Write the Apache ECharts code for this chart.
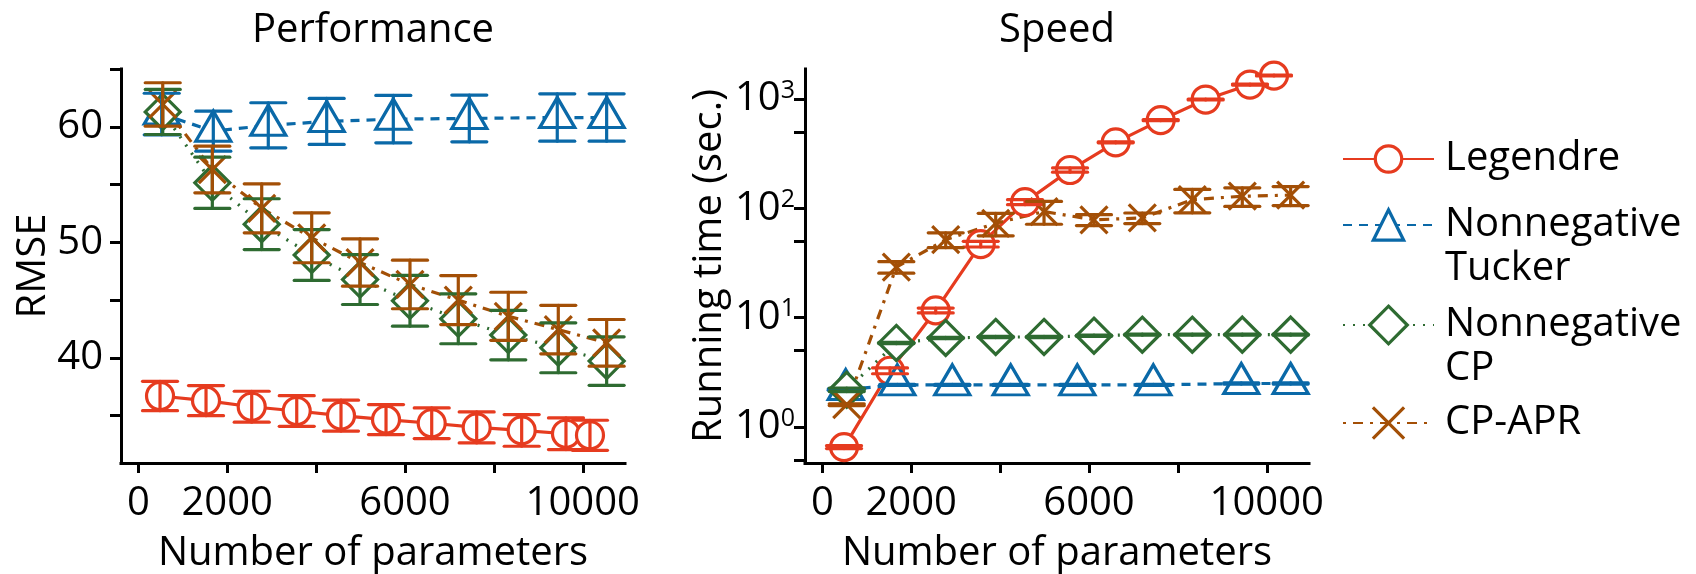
<!DOCTYPE html>
<html>
<head>
<meta charset="utf-8">
<script src="https://cdn.jsdelivr.net/npm/echarts@6/dist/echarts.min.js"></script>
<style>
  html, body { margin: 0; padding: 0; background: #fff; }
  #main { width: 1696px; height: 574px; }
</style>
</head>
<body>
<div id="main"></div>
<script>
// ---- data ----
var names = ['Legendre', 'Nonnegative Tucker', 'Nonnegative CP', 'CP-APR'];

// number of parameters
var xLegendre = [488, 1523, 2551, 3564, 4560, 5573, 6601, 7613, 8625, 9622, 10162];
var xTucker   = [526, 1687, 2924, 4238, 5737, 7447, 9426, 10537];
var xCP       = [549, 1665, 2776, 3901, 4988, 6112, 7199, 8324, 9449, 10537];
var xCPAPR    = [549, 1665, 2776, 3901, 4988, 6112, 7199, 8324, 9449, 10537];

// RMSE (mean, sd)
var rmseLegendre   = [36.7, 36.3, 35.77, 35.4, 35.0, 34.66, 34.34, 33.98, 33.72, 33.43, 33.3];
var rmseLegendreSd = [1.27, 1.30, 1.34, 1.33, 1.34, 1.30, 1.33, 1.34, 1.37, 1.37, 1.30];
var rmseTucker     = [61.1, 59.62, 60.13, 60.46, 60.66, 60.72, 60.8, 60.8];
var rmseTuckerSd   = [1.8, 1.73, 1.95, 1.99, 2.05, 2.02, 2.05, 2.05];
var rmseCP         = [61.28, 55.15, 51.57, 48.9, 46.78, 44.94, 43.38, 41.97, 40.87, 39.72];
var rmseCPSd       = [1.95, 2.22, 2.2, 2.2, 2.16, 2.2, 2.16, 2.14, 2.16, 2.1];
var rmseCPAPR      = [61.93, 56.3, 52.94, 50.39, 48.25, 46.35, 45.0, 43.6, 42.45, 41.3];
var rmseCPAPRSd    = [1.88, 2.02, 2.12, 2.16, 2.05, 2.1, 2.12, 2.08, 2.1, 2.02];

// running time in seconds (mean, sd)
var timeLegendre   = [0.656, 3.27, 11.65, 47.1, 114, 224, 401, 640, 988, 1355, 1637];
var timeLegendreSd = [0.02, 0.2, 0.6, 2.8, 6, 10, 4, 8, 10, 15, 15];
var timeTucker     = [2.2, 2.43, 2.43, 2.43, 2.43, 2.43, 2.5, 2.5];
var timeTuckerSd   = [0.03, 0.03, 0.03, 0.03, 0.03, 0.03, 0.03, 0.03];
var timeCP         = [2.19, 5.87, 6.52, 6.66, 6.66, 6.84, 6.99, 6.99, 7.0, 7.0];
var timeCPSd       = [0.08, 0.08, 0.08, 0.08, 0.08, 0.08, 0.08, 0.08, 0.08, 0.08];
var timeCPAPR      = [1.6, 29, 51.7, 73, 93.5, 78.5, 81.6, 120, 129, 132];
var timeCPAPRSd    = [0.03, 3.5, 8, 17, 22, 9, 9, 29, 25, 26];

// axis ticks / labels
var xTicks = [0, 2000, 4000, 6000, 8000, 10000];
var xLabels = [0, 2000, 6000, 10000];
var rmseTicks = [35, 40, 45, 50, 55, 60, 65];
var rmseLabels = [40, 50, 60];
var timeTicks = [0.5, 1, 5, 10, 50, 100, 500, 1000];
var timeLabels = [1, 10, 100, 1000];

// ---- styles ----
var FONT = 'Open Sans';
var COLORS = ['#E63B1F', '#0A69A8', '#2E6B31', '#A34F06'];
var SYMBOLS = ['circle', 'triangle', 'diamond', 'path://M0,0L27,27M27,0L0,27'];
var SIZES = [27, [35, 30], [35, 35], 27];
var OFFSETS = [[0, 0], [0, -5], [0, 0], [0, 0]];
var DASHES = ['solid', [9, 7], [2, 8], [3, 7, 10, 7]];
var LW = 3.2;
var CAP = 17.5;

function lineSeries(k, grid, xs, ys) {
  return {
    type: 'line', name: names[k], xAxisIndex: grid, yAxisIndex: grid, z: 2,
    data: xs.map(function (x, i) { return [x, ys[i]]; }),
    symbol: SYMBOLS[k], symbolSize: SIZES[k], symbolOffset: OFFSETS[k],
    itemStyle: { color: '#fff', borderColor: COLORS[k], borderWidth: LW },
    lineStyle: { color: COLORS[k], width: LW, type: DASHES[k] },
    emphasis: { disabled: true }, silent: true, animation: false
  };
}

// error bars drawn above the markers
function errSeries(k, grid, xs, ys, sd) {
  var color = COLORS[k];
  return {
    type: 'custom', name: names[k], xAxisIndex: grid, yAxisIndex: grid, z: 3,
    data: xs.map(function (x, i) { return [x, ys[i], ys[i] - sd[i], ys[i] + sd[i]]; }),
    renderItem: function (params, api) {
      var x = api.value(0);
      var hi = api.coord([x, api.value(3)]);
      var lo = api.coord([x, api.value(2)]);
      var st = { stroke: color, lineWidth: LW, lineCap: 'round' };
      return {
        type: 'group', children: [
          { type: 'line', shape: { x1: hi[0], y1: hi[1], x2: lo[0], y2: lo[1] }, style: st },
          { type: 'line', shape: { x1: hi[0] - CAP, y1: hi[1], x2: hi[0] + CAP, y2: hi[1] }, style: st },
          { type: 'line', shape: { x1: lo[0] - CAP, y1: lo[1], x2: lo[0] + CAP, y2: lo[1] }, style: st }
        ]
      };
    },
    silent: true, animation: false
  };
}

var axisText = { fontSize: 40, color: '#000', fontFamily: FONT };
var axisLine = { onZero: false, lineStyle: { color: '#000', width: 3, cap: 'square' } };

function xAxisCfg(grid) {
  return {
    type: 'value', gridIndex: grid, min: -390, max: 10950,
    name: 'Number of parameters', nameLocation: 'middle', nameGap: 71, nameTextStyle: axisText,
    axisLine: axisLine,
    axisTick: { customValues: xTicks, length: 10, lineStyle: { color: '#000', width: 3 } },
    axisLabel: Object.assign({ customValues: xLabels, margin: 21, formatter: function (v) { return String(v); } }, axisText),
    splitLine: { show: false }
  };
}

var series = [];
var xs = [xLegendre, xTucker, xCP, xCPAPR];
var rm = [rmseLegendre, rmseTucker, rmseCP, rmseCPAPR];
var rmSd = [rmseLegendreSd, rmseTuckerSd, rmseCPSd, rmseCPAPRSd];
var tm = [timeLegendre, timeTucker, timeCP, timeCPAPR];
var tmSd = [timeLegendreSd, timeTuckerSd, timeCPSd, timeCPAPRSd];
for (var k = 0; k < 4; k++) {
  series.push(lineSeries(k, 0, xs[k], rm[k]));
  series.push(errSeries(k, 0, xs[k], rm[k], rmSd[k]));
}
for (var k = 0; k < 4; k++) {
  series.push(lineSeries(k, 1, xs[k], tm[k]));
  series.push(errSeries(k, 1, xs[k], tm[k], tmSd[k]));
}

// legend: one block per method so the icon sits on the first text line
var legendTexts = ['Legendre', '\nNonnegative\nTucker', '\nNonnegative\nCP', 'CP-APR'];
var legendTops = [137, 159, 259, 401];
var legendIconH = [33, 38, 47, 39];
var legends = names.map(function (n, k) {
  return {
    data: [n], orient: 'vertical', left: 1342, top: legendTops[k], padding: 0,
    itemWidth: 91, itemHeight: legendIconH[k], selectedMode: false,
    formatter: function () { return legendTexts[k]; },
    itemStyle: { borderWidth: LW },
    textStyle: { fontSize: 40, lineHeight: 44, color: '#000', fontFamily: FONT, padding: [0, 0, 0, 6] }
  };
});

var chart = echarts.init(document.getElementById('main'), null, { renderer: 'canvas' });
chart.setOption({
  backgroundColor: '#fff',
  animation: false,
  title: [
    { text: 'Performance', left: 373, top: 11, textAlign: 'center', padding: 0,
      textStyle: { fontSize: 40, fontWeight: 'normal', color: '#000', fontFamily: FONT } },
    { text: 'Speed', left: 1057, top: 11, textAlign: 'center', padding: 0,
      textStyle: { fontSize: 40, fontWeight: 'normal', color: '#000', fontFamily: FONT } }
  ],
  legend: legends,
  grid: [
    { left: 121, top: 69, width: 504, height: 394, outerBoundsMode: 'none' },
    { left: 805, top: 69, width: 504, height: 394, outerBoundsMode: 'none' }
  ],
  xAxis: [xAxisCfg(0), xAxisCfg(1)],
  yAxis: [
    {
      type: 'value', gridIndex: 0, min: 30.9, max: 65,
      name: 'RMSE', nameLocation: 'middle', nameGap: 67, nameTextStyle: axisText,
      axisLine: axisLine,
      axisTick: { customValues: rmseTicks, length: 11, lineStyle: { color: '#000', width: 3 } },
      axisLabel: Object.assign({ customValues: rmseLabels, margin: 18 }, axisText),
      splitLine: { show: false }
    },
    {
      type: 'log', logBase: 10, gridIndex: 1, min: 0.469, max: 1879,
      name: 'Running time (sec.)', nameLocation: 'middle', nameGap: 75, nameTextStyle: axisText,
      axisLine: axisLine,
      axisTick: { customValues: timeTicks, length: 11, lineStyle: { color: '#000', width: 3 } },
      axisLabel: {
        customValues: timeLabels, margin: 10, color: '#000', fontFamily: FONT,
        formatter: function (v) { return '{b|10}{s|' + Math.round(Math.log10(v)) + '}'; },
        rich: {
          b: { fontSize: 40, lineHeight: 40, fontFamily: FONT, color: '#000' },
          s: { fontSize: 25, lineHeight: 25, fontFamily: FONT, color: '#000', padding: [0, 0, 17, 0] }
        }
      },
      splitLine: { show: false }
    }
  ],
  series: series
});
</script>
</body>
</html>
